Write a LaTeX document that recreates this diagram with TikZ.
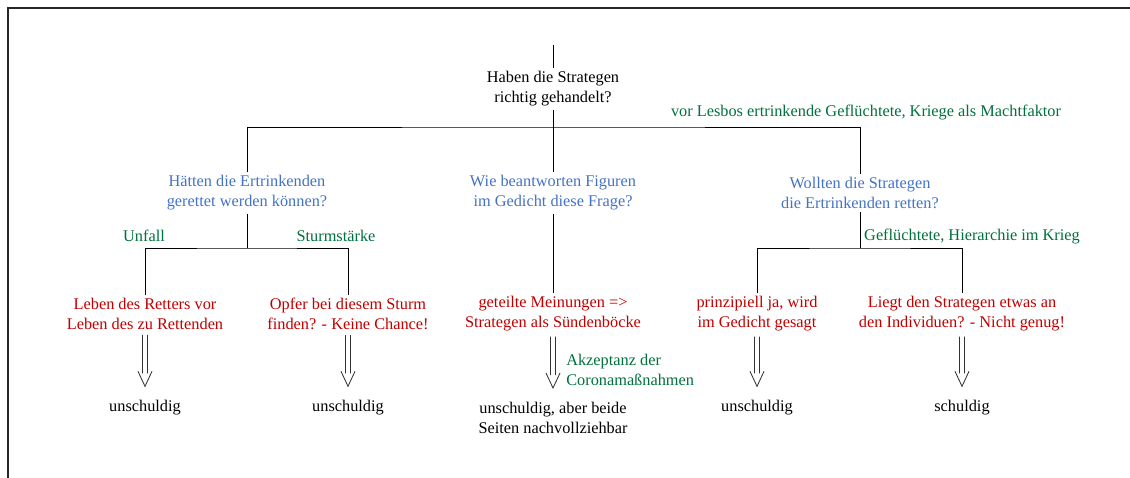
\documentclass[tikz,border=0pt]{standalone}
\usepackage{fontspec}
\setmainfont{Liberation Serif}
\usepackage{xcolor}
\usepackage{tikz}
\usetikzlibrary{arrows.meta, positioning, calc}

\definecolor{frageblau}{RGB}{68,114,196}
\definecolor{antwortrot}{RGB}{192,0,0}
\definecolor{grundgruen}{RGB}{0,112,60}

\begin{document}
\begin{tikzpicture}[
  x=0.025cm, y=-0.025cm,
  every node/.style={font=\fontsize{11.6}{14.2}\selectfont, align=center, inner sep=2.1pt},
  haupt/.style={text=black},
  frage/.style={text=frageblau},
  antwort/.style={text=antwortrot},
  grund/.style={text=grundgruen, inner sep=0pt},
  urteil/.style={text=black},
  linie/.style={draw=black, line width=0.6pt},
  folgt/.style={draw=black!80, line width=0.6pt, to path={
    ($(\tikztostart.south)+(-2.5,2)$) -- ($(\tikztotarget.north)+(-2.5,-24)$)
    ($(\tikztostart.south)+(2.5,2)$) -- ($(\tikztotarget.north)+(2.5,-24)$)
    ($(\tikztotarget.north)+(-7,-26)$) -- ($(\tikztotarget.north)+(0,-11)$)
      -- ($(\tikztotarget.north)+(7,-26)$)}}
]
  \useasboundingbox (0,0) rectangle (1130,478);
  \draw[line width=1.2pt, black!85] (8,478) -- (8,8) -- (1130,8);

  % Wurzel
  \coordinate (start) at (553,45);
  \node[haupt] (q0) at (553,89) {Haben die Strategen\\richtig gehandelt?};
  \node[grund] (g0) at (866,113) {vor Lesbos ertrinkende Geflüchtete, Kriege als Machtfaktor};

  % Fragen
  \node[frage] (q1) at (247,193) {Hätten die Ertrinkenden\\gerettet werden können?};
  \node[frage] (q2) at (553,193) {Wie beantworten Figuren\\im Gedicht diese Frage?};
  \node[frage] (q3) at (860,193) {Wollten die Strategen\\die Ertrinkenden retten?};

  % Gruende
  \node[grund] (g1) at (144,236) {Unfall};
  \node[grund] (g2) at (336,236) {Sturmstärke};
  \node[grund] (g3) at (972,237) {Geflüchtete, Hierarchie im Krieg};

  % Antworten
  \node[antwort] (r1) at (145,314) {Leben des Retters vor\\Leben des zu Rettenden};
  \node[antwort] (r2) at (348,314) {Opfer bei diesem Sturm\\finden? - Keine Chance!};
  \node[antwort] (r3) at (553,314) {geteilte Meinungen =>\\Strategen als Sündenböcke};
  \node[antwort] (r4) at (757,314) {prinzipiell ja, wird\\im Gedicht gesagt};
  \node[antwort] (r5) at (962,314) {Liegt den Strategen etwas an\\den Individuen? - Nicht genug!};
  \node[grund, anchor=west, align=left] (g4) at (566,370) {Akzeptanz der\\Coronamaßnahmen};

  % Urteile
  \node[urteil] (u1) at (145,408) {unschuldig};
  \node[urteil] (u2) at (348,408) {unschuldig};
  \node[urteil] (u3) at (553,418) {unschuldig, aber beide\\Seiten nachvollziehbar};
  \node[urteil] (u4) at (757,408) {unschuldig};
  \node[urteil] (u5) at (962,408) {schuldig};

  \coordinate (k0) at (553,127);
  \coordinate (k1) at (247,248);
  \coordinate (k3) at (860,248);

  \draw[linie] (start) -- (q0);
  \draw[linie] (q0) -- (q2);
  \draw[linie] (q1) |- (k0) -| (q3);
  \draw[linie] (q1) -- (k1);
  \draw[linie] (r1) |- (k1) -| (r2);
  \draw[linie] (q2) -- (r3);
  \draw[linie] (q3) -- (k3);
  \draw[linie] (r4) |- (k3) -| (r5);

  \draw[folgt] (r1) to (u1);
  \draw[folgt] (r2) to (u2);
  \draw[folgt] (r3) to (u3);
  \draw[folgt] (r4) to (u4);
  \draw[folgt] (r5) to (u5);
\end{tikzpicture}
\end{document}
